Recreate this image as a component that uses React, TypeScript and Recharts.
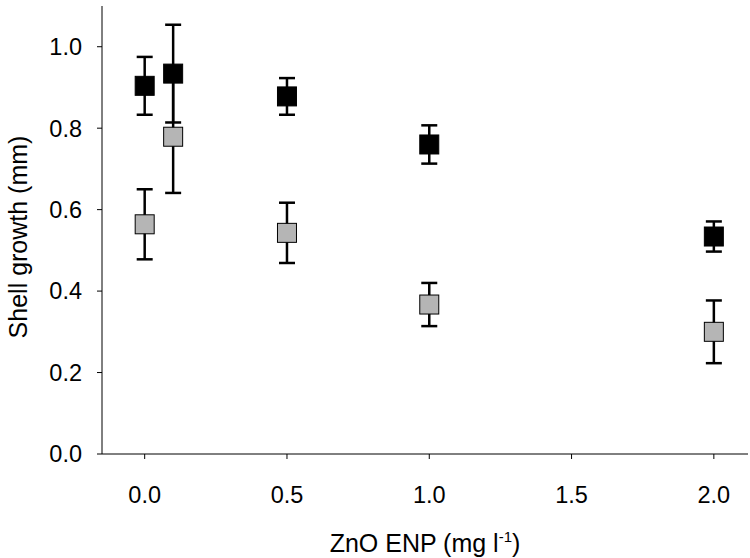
import React from 'react'
import {
  ScatterChart,
  Scatter,
  XAxis,
  YAxis,
  ErrorBar,
  Label,
} from 'recharts'

document.body.style.margin = '0'

// ZnO ENP concentrations (mg l-1)
const concentrations = [0, 0.1, 0.5, 1.0, 2.0]
const darkGrowth = [0.904, 0.934, 0.878, 0.76, 0.534]
const darkErr = [0.071, 0.12, 0.045, 0.047, 0.037]
const lightGrowth = [0.564, 0.779, 0.543, 0.367, 0.3]
const lightErr = [0.086, 0.138, 0.074, 0.053, 0.077]

const xTicks = [0, 0.5, 1.0, 1.5, 2.0]
const yTicks = [0, 0.2, 0.4, 0.6, 0.8, 1.0]

const FONT = '"Liberation Sans", Arial, sans-serif'

const darkData = concentrations.map((x, i) => ({ x, y: darkGrowth[i], err: darkErr[i] }))
const lightData = concentrations.map((x, i) => ({ x, y: lightGrowth[i], err: lightErr[i] }))

const square = (fill: string) => (props: any) => {
  const { cx, cy } = props
  const s = 19
  return (
    <rect
      x={cx - s / 2}
      y={cy - s / 2}
      width={s}
      height={s}
      fill={fill}
      stroke="#000"
      strokeWidth={1}
    />
  )
}

const YTitle = (props: any) => {
  const { viewBox } = props
  const x = viewBox.x + 18
  const y = viewBox.y + viewBox.height / 2 + 7
  return (
    <text
      x={x}
      y={y}
      transform={`rotate(-90, ${x}, ${y})`}
      textAnchor="middle"
      dominantBaseline="central"
      fontFamily={FONT}
      fontSize={25}
      fill="#000"
    >
      Shell growth (mm)
    </text>
  )
}

const XTitle = (props: any) => {
  const { viewBox } = props
  const x = viewBox.x + viewBox.width / 2
  return (
    <text x={x} y={552} textAnchor="middle" fontFamily={FONT} fontSize={25} fill="#000">
      ZnO ENP (mg l
      <tspan dy={-10} fontSize={15}>-1</tspan>
      <tspan dy={10}>)</tspan>
    </text>
  )
}

export default function App() {
  return (
    <ScatterChart
      width={750}
      height={558}
      margin={{ top: 6, right: 2, bottom: 0, left: 0 }}
    >
      <XAxis
        type="number"
        dataKey="x"
        domain={[-0.15, 2.12]}
        allowDataOverflow
        ticks={xTicks}
        tickFormatter={(v: number) => v.toFixed(1)}
        height={104}
        tickSize={5}
        tickMargin={27}
        axisLine={{ stroke: '#000', strokeWidth: 1 }}
        tickLine={{ stroke: '#000' }}
        tick={{ fill: '#000', fontSize: 23.5, fontFamily: FONT }}
      >
        <Label content={<XTitle />} />
      </XAxis>
      <YAxis
        type="number"
        dataKey="y"
        domain={[0, 1.1]}
        ticks={yTicks}
        tickFormatter={(v: number) => v.toFixed(1)}
        width={102}
        tickSize={5}
        tickMargin={15}
        axisLine={{ stroke: '#000', strokeWidth: 1 }}
        tickLine={{ stroke: '#000' }}
        tick={{ fill: '#000', fontSize: 23.5, fontFamily: FONT }}
      >
        <Label content={<YTitle />} />
      </YAxis>
      <Scatter data={lightData} shape={square('#b5b5b5')} isAnimationActive={false}>
        <ErrorBar dataKey="err" direction="y" width={8} stroke="#000" strokeWidth={2.5} />
      </Scatter>
      <Scatter data={darkData} shape={square('#000')} isAnimationActive={false}>
        <ErrorBar dataKey="err" direction="y" width={8} stroke="#000" strokeWidth={2.5} />
      </Scatter>
    </ScatterChart>
  )
}
